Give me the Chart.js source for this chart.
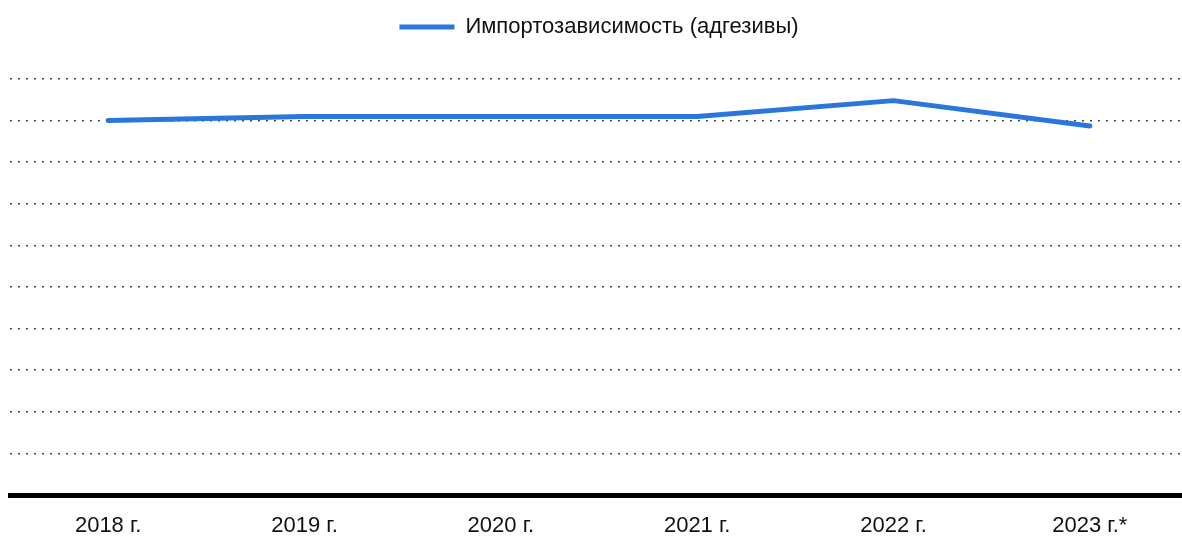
<!DOCTYPE html>
<html>
<head>
<meta charset="utf-8">
<script src="https://cdn.jsdelivr.net/npm/chart.js@4"></script>
<style>
  body { margin: 0; background: #fff; overflow: hidden; }
  #wrap { width: 1188px; height: 537px; }
</style>
</head>
<body>
<div id="wrap"><canvas id="myChart"></canvas></div>
<script>
'use strict';

let years = ['2018 г.', '2019 г.', '2020 г.', '2021 г.', '2022 г.', '2023 г.*'];
let importShare = [90, 91, 91, 91, 94.8, 88.7];
let seriesName = 'Импортозависимость (адгезивы)';
let yMin = 0;
let yMax = 100;
let yStep = 10;

let fontName = '"Liberation Sans Narrow", "Arial Narrow", "Liberation Sans", Arial, sans-serif';

// extra space under legend
let legendGap = {
    id: 'legendGap',
    beforeInit(chart) {
        let oldFit = chart.legend.fit;
        chart.legend.fit = function () {
            oldFit.bind(chart.legend)();
            this.height += 31;
        };
    }
};

let ctx = document.getElementById('myChart').getContext('2d');
let myChart = new Chart(ctx, {
    type: 'line',
    data: {
        labels: years,
        datasets: [{
            label: seriesName,
            data: importShare,
            borderColor: '#2a76db',
            backgroundColor: '#2a76db',
            borderWidth: 5,
            borderCapStyle: 'round',
            borderJoinStyle: 'round',
            pointRadius: 0,
            pointHoverRadius: 0,
            pointStyle: 'line',
            tension: 0
        }]
    },
    options: {
        responsive: true,
        maintainAspectRatio: false,
        animation: false,
        layout: {
            padding: { top: 6, left: 10, right: 0, bottom: 0 }
        },
        plugins: {
            legend: {
                position: 'top',
                labels: {
                    usePointStyle: true,
                    pointStyle: 'line',
                    pointStyleWidth: 55,
                    padding: 10,
                    color: '#111',
                    font: { family: fontName, size: 22 }
                }
            },
            tooltip: { enabled: false }
        },
        scales: {
            x: {
                offset: true,
                grid: { display: false, drawTicks: false },
                border: { display: true, color: '#000', width: 5 },
                ticks: {
                    color: '#111',
                    padding: 20,
                    font: { family: fontName, size: 22, lineHeight: 1 }
                },
                afterFit(scale) {
                    scale.height = 42;
                }
            },
            y: {
                min: yMin,
                max: yMax,
                ticks: { display: false, stepSize: yStep },
                grid: { color: '#444', lineWidth: 1.5, drawTicks: false },
                border: { display: false, dash: [2, 6] }
            }
        }
    },
    plugins: [legendGap]
});
</script>
</body>
</html>
